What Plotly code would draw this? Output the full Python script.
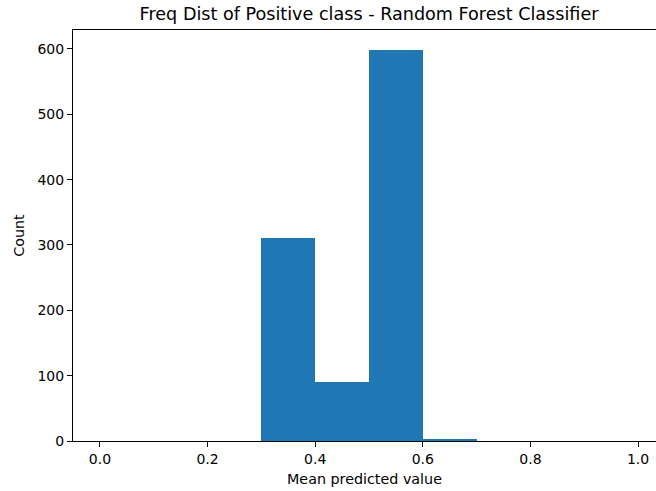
import plotly.graph_objects as go

# Histogram of predicted probabilities for the positive class (10 equal bins on [0, 1])
bin_edges = [0.0, 0.1, 0.2, 0.3, 0.4, 0.5, 0.6, 0.7, 0.8, 0.9, 1.0]
counts = [0, 0, 0, 310, 90, 599, 2, 0, 0, 0]

x_ticks = [0.0, 0.2, 0.4, 0.6, 0.8, 1.0]
x_tick_labels = ["0.0", "0.2", "0.4", "0.6", "0.8", "1.0"]
y_ticks = [0, 100, 200, 300, 400, 500, 600]

title_text = "Freq Dist of Positive class - Random Forest Classifier"
x_label = "Mean predicted value"
y_label = "Count"

centers = [(a + b) / 2 for a, b in zip(bin_edges[:-1], bin_edges[1:])]
widths = [b - a for a, b in zip(bin_edges[:-1], bin_edges[1:])]

FONT = "DejaVu Sans"
TICK_SIZE = 14
LABEL_SIZE = 14.3
TITLE_SIZE = 17.6

fig = go.Figure(
    go.Bar(
        x=centers,
        y=counts,
        width=widths,
        marker=dict(color="#1f77b4", line=dict(width=0)),
        hoverinfo="x+y",
    )
)

W, H = 656, 491
left, top, bottom = 72.7, 30, 441

fig.update_layout(
    width=W,
    height=H,
    margin=dict(l=left, r=0, t=top, b=H - bottom, pad=0),
    paper_bgcolor="white",
    plot_bgcolor="white",
    showlegend=False,
    bargap=0,
    font=dict(family=FONT, size=TICK_SIZE, color="black"),
    title=dict(
        text=title_text,
        font=dict(family=FONT, size=TITLE_SIZE, color="black"),
        xref="paper",
        x=0.5078,
        xanchor="center",
        yref="container",
        y=1 - 14 / H,
        yanchor="middle",
    ),
)

fig.update_xaxes(
    range=[-0.05, 1.0333],
    tickvals=x_ticks,
    ticktext=x_tick_labels,
    ticks="outside",
    ticklen=5,
    tickwidth=1,
    tickcolor="black",
    showline=True,
    linecolor="black",
    linewidth=1,
    mirror=True,
    showgrid=False,
    zeroline=False,
    tickfont=dict(family=FONT, size=TICK_SIZE, color="black"),
    title=dict(text=x_label, font=dict(family=FONT, size=LABEL_SIZE, color="black"), standoff=8),
)

fig.update_yaxes(
    range=[0, 628.95],
    tickvals=y_ticks,
    ticks="outside",
    ticklen=5,
    tickwidth=1,
    tickcolor="black",
    showline=True,
    linecolor="black",
    linewidth=1,
    mirror=False,
    showgrid=False,
    zeroline=False,
    tickfont=dict(family=FONT, size=TICK_SIZE, color="black"),
    title=dict(text=y_label, font=dict(family=FONT, size=LABEL_SIZE, color="black"), standoff=9),
)

fig.write_html("out.html")
